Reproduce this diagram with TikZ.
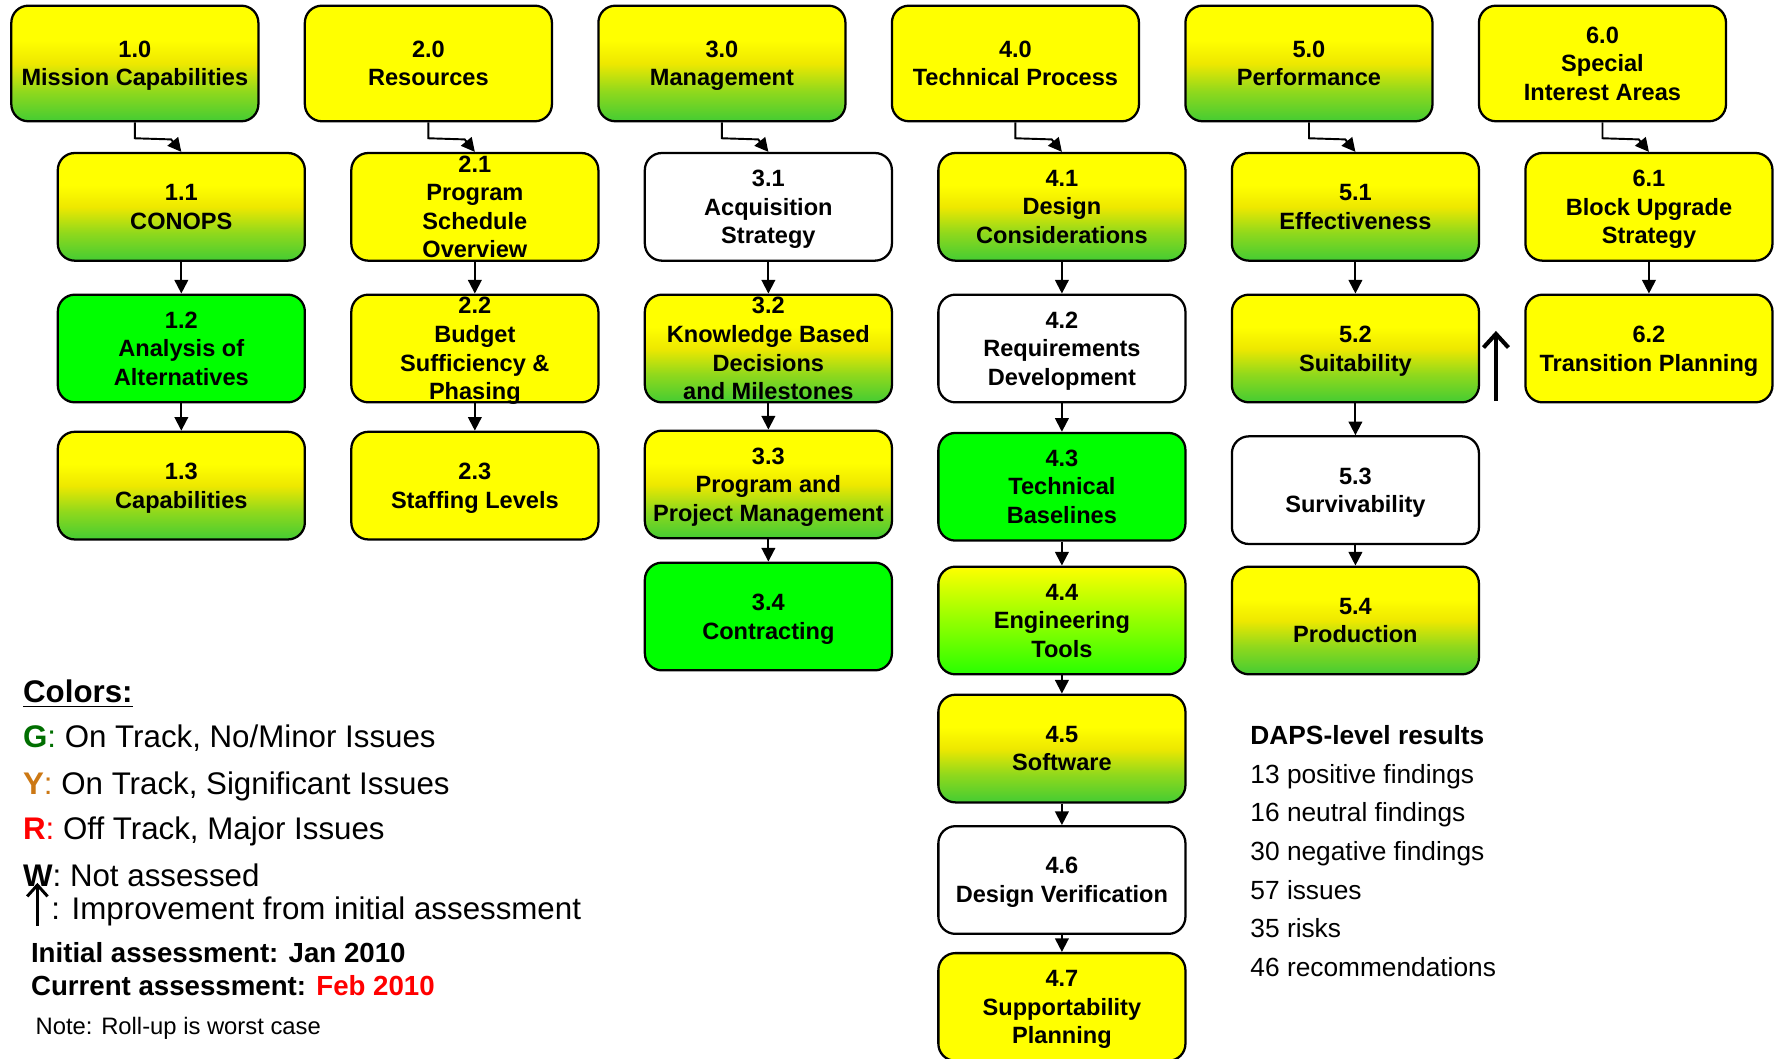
\documentclass[tikz,border=0pt]{standalone}
\usepackage{fontspec}
\setmainfont{Liberation Sans}
\usetikzlibrary{arrows.meta}

\definecolor{wbsyellow}{RGB}{255,255,0}
\definecolor{midyellow}{RGB}{238,232,0}
\definecolor{wbsgreen}{RGB}{0,255,0}
\definecolor{fadegreen}{RGB}{68,204,51}
\definecolor{limegreen}{RGB}{40,255,0}
\definecolor{keygreen}{RGB}{0,110,0}
\definecolor{keyorange}{RGB}{204,120,20}

% yellow on top, fading to green in the lower half
\pgfdeclareverticalshading{yellowfade}{100bp}{color(0bp)=(fadegreen); color(25bp)=(fadegreen);
  color(38bp)=(midyellow!45!fadegreen); color(50bp)=(midyellow); color(60bp)=(wbsyellow); color(100bp)=(wbsyellow)}

\tikzset{
  box/.style={draw, line width=1pt, rounded corners=7.5pt, minimum width=109pt,
    inner sep=0pt, text depth=0pt, align=center, font=\bfseries\fontsize{10.4}{12.6}\selectfont},
  topbox/.style={box, minimum height=51pt},
  subbox/.style={box, minimum height=47.5pt},
  yel/.style={fill=wbsyellow},
  grn/.style={fill=wbsgreen},
  wht/.style={fill=white},
  yg/.style={shade, shading=yellowfade},
  ylg/.style={top color=wbsyellow, middle color=wbsyellow!55!limegreen, bottom color=limegreen},
  arr/.style={line width=0.85pt, -{Triangle[length=6pt,width=6pt]}},
  keytext/.style={anchor=west, inner sep=0pt, text height=9.9pt, text depth=0pt, font=\fontsize{13.8}{16}\selectfont},
  datetext/.style={anchor=west, inner sep=0pt, text height=8.7pt, text depth=0pt, font=\bfseries\fontsize{12.2}{14}\selectfont},
  dapstext/.style={anchor=west, inner sep=0pt, text height=8.3pt, text depth=0pt, font=\fontsize{11.6}{14}\selectfont},
}

\begin{document}
\begin{tikzpicture}[x=0.5pt, y=-0.5pt]

    % Page frame
    \useasboundingbox (0,0) rectangle (1568,934);

    % Top level areas
    \node[topbox, yg]  (t1) at (119,56)  {1.0\\Mission Capabilities};
    \node[topbox, yel] (t2) at (378,56)  {2.0\\Resources};
    \node[topbox, yg]  (t3) at (637,56)  {3.0\\Management};
    \node[topbox, yel] (t4) at (896,56)  {4.0\\Technical Process};
    \node[topbox, yg]  (t5) at (1155,56) {5.0\\Performance};
    \node[topbox, yel] (t6) at (1414,56) {6.0\\Special\\Interest Areas};

    % Column 1
    \node[subbox, yg]  (b11) at (160,182.5) {1.1\\CONOPS};
    \node[subbox, grn] (b12) at (160,307.5) {1.2\\Analysis of\\Alternatives};
    \node[subbox, yg]  (b13) at (160,428.5) {1.3\\Capabilities};

    % Column 2
    \node[subbox, yel] (b21) at (419,182.5) {2.1\\Program\\Schedule\\Overview};
    \node[subbox, yel] (b22) at (419,307.5) {2.2\\Budget\\Sufficiency \&\\Phasing};
    \node[subbox, yel] (b23) at (419,428.5) {2.3\\Staffing Levels};

    % Column 3
    \node[subbox, wht] (b31) at (678,182.5) {3.1\\Acquisition\\Strategy};
    \node[subbox, yg]  (b32) at (678,307.5) {3.2\\Knowledge Based\\Decisions\\and Milestones};
    \node[subbox, yg]  (b33) at (678,427.5) {3.3\\Program and\\Project Management};
    \node[subbox, grn] (b34) at (678,544)   {3.4\\Contracting};

    % Column 4
    \node[subbox, yg]  (b41) at (937,182.5) {4.1\\Design\\Considerations};
    \node[subbox, wht] (b42) at (937,307.5) {4.2\\Requirements\\Development};
    \node[subbox, grn] (b43) at (937,429.5) {4.3\\Technical\\Baselines};
    \node[subbox, ylg] (b44) at (937,547.5) {4.4\\Engineering\\Tools};
    \node[subbox, yg]  (b45) at (937,660.5) {4.5\\Software};
    \node[subbox, wht] (b46) at (937,776.5) {4.6\\Design Verification};
    \node[subbox, yel] (b47) at (937,888.5) {4.7\\Supportability\\Planning};

    % Column 5
    \node[subbox, yg]  (b51) at (1196,182.5) {5.1\\Effectiveness};
    \node[subbox, yg]  (b52) at (1196,307.5) {5.2\\Suitability};
    \node[subbox, wht] (b53) at (1196,432.5) {5.3\\Survivability};
    \node[subbox, yg]  (b54) at (1196,547.5) {5.4\\Production};

    % Column 6
    \node[subbox, yel] (b61) at (1455,182.5) {6.1\\Block Upgrade\\Strategy};
    \node[subbox, yel] (b62) at (1455,307.5) {6.2\\Transition Planning};

    % Elbow links from the top row
    \foreach \i in {1,...,6} {
        \draw[arr] (t\i.south) -- ++(0,14) -- ++(32,1) -- (b\i1.north);
    }

    % Links down each column
    \draw[arr] (b11) -- (b12);
    \draw[arr] (b12) -- (b13);
    \draw[arr] (b21) -- (b22);
    \draw[arr] (b22) -- (b23);
    \draw[arr] (b31) -- (b32);
    \draw[arr] (b32) -- (b33);
    \draw[arr] (b33) -- (b34);
    \draw[arr] (b41) -- (b42);
    \draw[arr] (b42) -- (b43);
    \draw[arr] (b43) -- (b44);
    \draw[arr] (b44) -- (b45);
    \draw[arr] (b45) -- (b46);
    \draw[arr] (b46) -- (b47);
    \draw[arr] (b51) -- (b52);
    \draw[arr] (b52) -- (b53);
    \draw[arr] (b53) -- (b54);
    \draw[arr] (b61) -- (b62);

    % Improvement mark for 5.2
    \coordinate (up52) at (1320,354);
    \draw[line width=1.8pt, -{Straight Barb[length=6pt,width=11pt]}] (up52) -- ++(0,-62);

    % Colour key
    \node[keytext] (kcol) at (20,610) {\bfseries\underline{Colors:}};
    \node[keytext] (kg) at (20,650) {\textcolor{keygreen}{\bfseries G}\textcolor{keygreen}{:} On Track, No/Minor Issues};
    \node[keytext] (ky) at (20,691) {\textcolor{keyorange}{\bfseries Y}\textcolor{keyorange}{:} On Track, Significant Issues};
    \node[keytext] (kr) at (20,731) {\textcolor{red}{\bfseries R}\textcolor{red}{:} Off Track, Major Issues};
    \node[keytext] (kw) at (20,772) {\textbf{W}: Not assessed};
    \node[keytext] (ki) at (45,801) {: Improvement from initial assessment};
    \coordinate (upkey) at (33,817);
    \draw[line width=1.3pt, -{Straight Barb[length=5pt,width=9pt]}] (upkey) -- ++(0,-38);

    % Assessment dates
    \node[datetext] (dinit) at (27,841) {Initial assessment: Jan 2010};
    \node[datetext] (dcur) at (27,870) {Current assessment: \textcolor{red}{Feb 2010}};
    \node[anchor=west, inner sep=0pt, text height=7.5pt, text depth=0pt, font=\fontsize{10.5}{12}\selectfont] (dnote) at (31,905) {Note: Roll-up is worst case};

    % DAPS results
    \node[dapstext, font=\bfseries\fontsize{11.6}{14}\selectfont] (r0) at (1103,649) {DAPS-level results};
    \node[dapstext] (r1) at (1103,683) {13 positive findings};
    \node[dapstext] (r2) at (1103,717) {16 neutral findings};
    \node[dapstext] (r3) at (1103,751) {30 negative findings};
    \node[dapstext] (r4) at (1103,785) {57 issues};
    \node[dapstext] (r5) at (1103,819) {35 risks};
    \node[dapstext] (r6) at (1103,853) {46 recommendations};

\end{tikzpicture}
\end{document}
